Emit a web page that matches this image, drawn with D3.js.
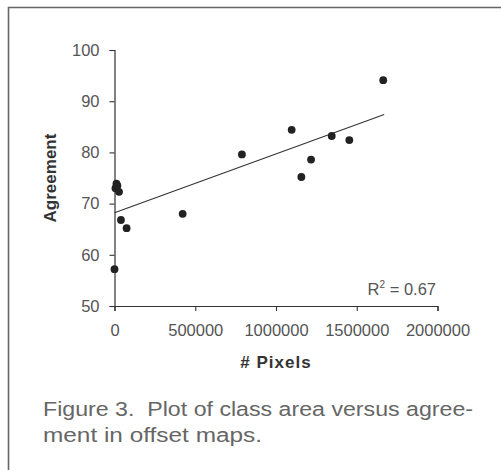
<!DOCTYPE html>
<html>
<head>
<meta charset="utf-8">
<script src="https://cdn.jsdelivr.net/npm/d3@7"></script>
<style>
  html, body { margin: 0; padding: 0; background: #fff; }
  svg { display: block; }
  text { font-family: "Liberation Sans", Arial, sans-serif; }
</style>
</head>
<body>
<svg id="chart" width="501" height="470"></svg>
<script>
// ---- data ----
const pixels    = [0, 6000, 12000, 18000, 28000, 40000, 75000, 422000, 789000, 1097000, 1157000, 1217000, 1345000, 1454000, 1664000];
const agreement = [57.2, 73.0, 73.9, 73.5, 72.3, 66.8, 65.2, 68.0, 79.6, 84.4, 75.2, 78.6, 83.2, 82.4, 94.1];
const trendX = [0, 1670000];
const trendY = [68.2, 87.4];
const xTicks = [0, 500000, 1000000, 1500000, 2000000];
const yTicks = [50, 60, 70, 80, 90, 100];
const xLabel = "# Pixels";
const yLabel = "Agreement";
const r2Label = "0.67";
const captionLines = ["Figure 3.  Plot of class area versus agree-", "ment in offset maps."];

const svg = d3.select("#chart");

// frame
svg.append("path")
  .attr("d", "M8.5,470 L8.5,7.5 L501,7.5")
  .attr("fill", "none").attr("stroke", "#666").attr("stroke-width", 1.6);

const x = d3.scaleLinear().domain([0, 2000000]).range([114.5, 437.5]);
const y = d3.scaleLinear().domain([50, 100]).range([306, 50]);

// axes
const xAxis = d3.axisBottom(x).tickValues(xTicks).tickFormat(d3.format("d")).tickSizeOuter(0).tickSize(5).tickPadding(13);
const yAxis = d3.axisLeft(y).tickValues(yTicks).tickFormat(d3.format("d")).tickSizeOuter(0).tickSize(5).tickPadding(10);

const gx = svg.append("g").attr("transform", `translate(0,${y(50)})`).call(xAxis);
const gy = svg.append("g").attr("transform", `translate(${x(0)},0)`).call(yAxis);

[gx, gy].forEach(g => {
  g.select(".domain").attr("stroke", "#333").attr("stroke-width", 1.2);
  g.selectAll(".tick line").attr("stroke", "#333").attr("stroke-width", 1.1);
  g.selectAll(".tick text").attr("fill", "#555").style("font-size", "16.5px").style("font-family", "'Liberation Sans', Arial, sans-serif");
});

// trend line
svg.append("line")
  .attr("x1", x(trendX[0])).attr("y1", y(trendY[0]))
  .attr("x2", x(trendX[1])).attr("y2", y(trendY[1]))
  .attr("stroke", "#333").attr("stroke-width", 1.1);

// points
svg.append("g").selectAll("circle")
  .data(pixels.map((p, i) => [p, agreement[i]]))
  .join("circle")
  .attr("cx", d => x(d[0])).attr("cy", d => y(d[1]))
  .attr("r", 3.9).attr("fill", "#222");

// R^2 label
const r2 = svg.append("text").attr("x", 436).attr("y", 295).attr("text-anchor", "end")
  .attr("fill", "#555").style("font-size", "16.5px");
r2.append("tspan").text("R");
r2.append("tspan").attr("dy", -7).style("font-size", "10px").text("2");
r2.append("tspan").attr("dy", 7).text(" = " + r2Label);

// axis titles
svg.append("text").attr("x", x(1000000)).attr("y", 368).attr("text-anchor", "middle")
  .attr("fill", "#333").style("font-size", "17px").style("font-weight", "bold").style("letter-spacing", "1px")
  .text(xLabel);

svg.append("text").attr("transform", "translate(56,178) rotate(-90)").attr("text-anchor", "middle")
  .attr("fill", "#333").style("font-size", "17px").style("font-weight", "bold")
  .text(yLabel);

// caption
svg.selectAll(".cap").data(captionLines).join("text")
  .attr("class", "cap")
  .attr("x", 43).attr("y", (d, i) => 416 + i * 26)
  .attr("fill", "#666").style("font-size", "20px").style("white-space", "pre")
  .attr("textLength", (d, i) => i === 0 ? 430 : 219)
  .attr("lengthAdjust", "spacingAndGlyphs")
  .text(d => d);
</script>
</body>
</html>
